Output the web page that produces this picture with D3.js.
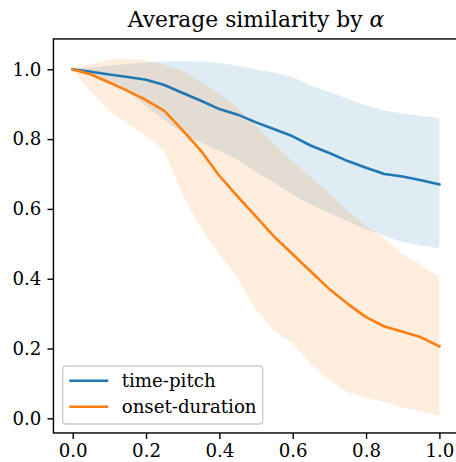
<!DOCTYPE html>
<html>
<head>
<meta charset="utf-8">
<script src="https://cdn.jsdelivr.net/npm/d3@7"></script>
<style>
  body { margin: 0; background: #fff; }
  text { font-family: 'DejaVu Serif', serif; fill: #000; }
</style>
</head>
<body>
<svg id="chart" width="456" height="462"></svg>
<script>
// alpha values (x)
var alpha = [0, 0.05, 0.1, 0.15, 0.2, 0.25, 0.3, 0.35, 0.4, 0.45, 0.5,
             0.55, 0.6, 0.65, 0.7, 0.75, 0.8, 0.85, 0.9, 0.95, 1.0];

// time-pitch
var tpMean  = [1.000, 0.993, 0.985, 0.978, 0.970, 0.955, 0.932, 0.910, 0.886, 0.870, 0.848,
               0.828, 0.808, 0.781, 0.760, 0.737, 0.718, 0.700, 0.693, 0.682, 0.670];
var tpUpper = [1.000, 1.005, 1.010, 1.015, 1.020, 1.023, 1.024, 1.022, 1.018, 1.010, 1.000,
               0.990, 0.978, 0.953, 0.935, 0.915, 0.897, 0.882, 0.873, 0.866, 0.860];
var tpLower = [1.000, 0.985, 0.965, 0.935, 0.895, 0.855, 0.817, 0.790, 0.766, 0.740, 0.705,
               0.675, 0.640, 0.612, 0.588, 0.564, 0.542, 0.522, 0.505, 0.495, 0.487];

// onset-duration
var odMean  = [1.000, 0.985, 0.962, 0.938, 0.912, 0.881, 0.825, 0.766, 0.695, 0.635, 0.578,
               0.520, 0.470, 0.420, 0.370, 0.328, 0.290, 0.263, 0.248, 0.232, 0.206];
var odUpper = [1.000, 1.015, 1.028, 1.030, 1.025, 1.013, 0.995, 0.965, 0.930, 0.890, 0.840,
               0.785, 0.735, 0.690, 0.645, 0.595, 0.550, 0.515, 0.470, 0.440, 0.405];
var odLower = [1.000, 0.935, 0.880, 0.845, 0.810, 0.765, 0.640, 0.545, 0.470, 0.400, 0.310,
               0.250, 0.215, 0.155, 0.110, 0.075, 0.058, 0.047, 0.030, 0.020, 0.008];

var xTicks = [0, 0.2, 0.4, 0.6, 0.8, 1.0];
var yTicks = [0, 0.2, 0.4, 0.6, 0.8, 1.0];
var names = ["time-pitch", "onset-duration"];
var colors = ["#1f77b4", "#ff7f0e"];
var serif = "'DejaVu Serif', 'Liberation Serif', serif";

var svg = d3.select("#chart");
var x = d3.scaleLinear().domain([0, 1]).range([72.7, 439.4]);
var y = d3.scaleLinear().domain([0, 1]).range([418.3, 69.3]);

var axLeft = x(-0.0525), axRight = x(1.0525), axTop = y(1.087), axBottom = y(-0.042);

var series = [
  {mean: tpMean, lo: tpLower, hi: tpUpper},
  {mean: odMean, lo: odLower, hi: odUpper}
];

var area = d3.area()
  .x(function(d) { return x(d.a); })
  .y0(function(d) { return y(d.lo); })
  .y1(function(d) { return y(d.hi); });
var line = d3.line()
  .x(function(d) { return x(d.a); })
  .y(function(d) { return y(d.m); });

series.forEach(function(s, i) {
  var pts = alpha.map(function(a, j) { return {a: a, lo: s.lo[j], hi: s.hi[j]}; });
  svg.append("path").attr("d", area(pts))
    .attr("fill", colors[i]).attr("fill-opacity", 0.14);
});
series.forEach(function(s, i) {
  var pts = alpha.map(function(a, j) { return {a: a, m: s.mean[j]}; });
  svg.append("path").attr("d", line(pts))
    .attr("fill", "none").attr("stroke", colors[i])
    .attr("stroke-width", 2.6).attr("stroke-linejoin", "round").attr("stroke-linecap", "square");
});

// spines
svg.append("rect").attr("x", axLeft).attr("y", axTop)
  .attr("width", axRight - axLeft).attr("height", axBottom - axTop)
  .attr("fill", "none").attr("stroke", "#000").attr("stroke-width", 1.4);

// axes
var xAxis = svg.append("g").attr("transform", "translate(0," + axBottom + ")")
  .call(d3.axisBottom(x).tickValues(xTicks).tickFormat(d3.format(".1f")).tickSize(6).tickPadding(5));
var yAxis = svg.append("g").attr("transform", "translate(" + axLeft + ",0)")
  .call(d3.axisLeft(y).tickValues(yTicks).tickFormat(d3.format(".1f")).tickSize(6).tickPadding(6));
[xAxis, yAxis].forEach(function(g) {
  g.attr("font-family", serif).attr("font-size", 18.2);
  g.select(".domain").remove();
  g.selectAll(".tick line").attr("stroke", "#000").attr("stroke-width", 1.4);
  g.selectAll(".tick text").attr("fill", "#000");
});

// title
var title = svg.append("text").attr("x", (axLeft + axRight) / 2).attr("y", 27)
  .attr("text-anchor", "middle").attr("font-family", serif).attr("font-size", 21.8);
title.append("tspan").text("Average similarity by ");
title.append("tspan").attr("font-style", "italic").text("α");

// legend
var lg = svg.append("g");
lg.append("rect").attr("x", 62.7).attr("y", 366).attr("width", 200).attr("height", 58).attr("rx", 3)
  .attr("fill", "#fff").attr("fill-opacity", 0.8).attr("stroke", "#cccccc").attr("stroke-width", 1.4);
names.forEach(function(n, i) {
  var yy = 380.7 + i * 26;
  lg.append("line").attr("x1", 69.3).attr("x2", 108.3).attr("y1", yy).attr("y2", yy)
    .attr("stroke", colors[i]).attr("stroke-width", 2.6);
  lg.append("text").attr("x", 121.7).attr("y", yy).attr("dy", "0.35em")
    .attr("font-family", serif).attr("font-size", 18.2).text(n);
});
</script>
</body>
</html>
